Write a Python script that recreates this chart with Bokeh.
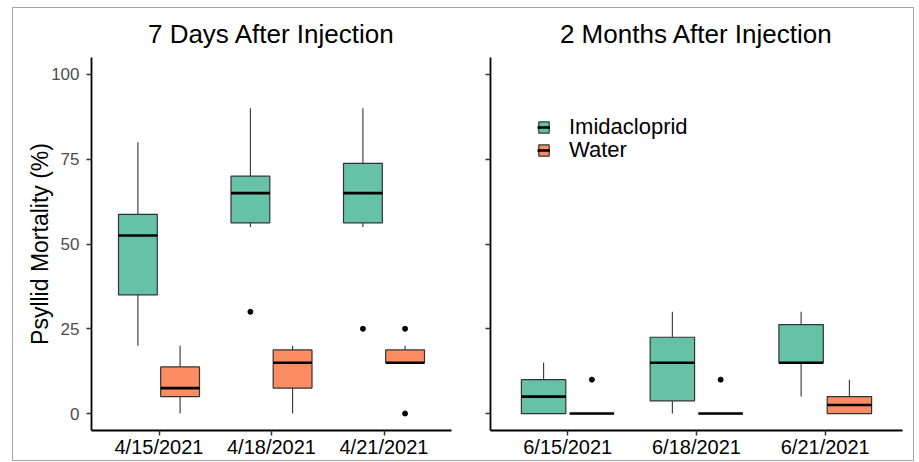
from bokeh.plotting import figure
from bokeh.models import FactorRange, Range1d, Legend, LegendItem, ColumnDataSource
from bokeh.transform import dodge
from bokeh.layouts import row
from bokeh.embed import file_html
from bokeh.resources import INLINE

# ---------------- data ----------------
dates_7d = ["4/15/2021", "4/18/2021", "4/21/2021"]
imid_7d_lower = [20, 55, 55]
imid_7d_q1 = [35, 56.25, 56.25]
imid_7d_median = [52.5, 65, 65]
imid_7d_q3 = [58.75, 70, 73.75]
imid_7d_upper = [80, 90, 90]
water_7d_lower = [0, 0, 15]
water_7d_q1 = [5, 7.5, 15]
water_7d_median = [7.5, 15, 15]
water_7d_q3 = [13.75, 18.75, 18.75]
water_7d_upper = [20, 20, 20]
imid_7d_out_dates = ["4/18/2021", "4/21/2021"]
imid_7d_out_vals = [30, 25]
water_7d_out_dates = ["4/21/2021", "4/21/2021"]
water_7d_out_vals = [25, 0]

dates_2m = ["6/15/2021", "6/18/2021", "6/21/2021"]
imid_2m_lower = [0, 0, 5]
imid_2m_q1 = [0, 3.75, 15]
imid_2m_median = [5, 15, 15]
imid_2m_q3 = [10, 22.5, 26.25]
imid_2m_upper = [15, 30, 30]
water_2m_lower = [0, 0, 0]
water_2m_q1 = [0, 0, 0]
water_2m_median = [0, 0, 2.5]
water_2m_q3 = [0, 0, 5]
water_2m_upper = [0, 0, 10]
imid_2m_out_dates = []
imid_2m_out_vals = []
water_2m_out_dates = ["6/15/2021", "6/18/2021"]
water_2m_out_vals = [10, 10]

y_ticks = [0, 25, 50, 75, 100]
groups = ["Imidacloprid", "Water"]
colors = {"Imidacloprid": "#66c2a5", "Water": "#fc8d62"}

FONT = "Liberation Sans"
BW = 0.345
OFF = 0.1875


def make_panel(title, dates, stats, outs, width, height, left, right, show_ylabels, legend):
    p = figure(width=width, height=height, output_backend="svg", toolbar_location=None,
               x_range=FactorRange(factors=dates, range_padding=0.2 / 3),
               y_range=Range1d(-5, 105),
               min_border_left=left, min_border_right=right,
               min_border_top=49, min_border_bottom=10)
    p.background_fill_color = "white"
    p.border_fill_color = "white"
    p.outline_line_color = None
    p.xgrid.visible = False
    p.ygrid.visible = False

    p.title.text = title
    p.title.align = "center"
    p.title.text_font = FONT
    p.title.text_font_size = "26px"
    p.title.text_font_style = "normal"
    p.title.text_color = "black"
    p.title.standoff = 17

    for ax in (p.xaxis[0], p.yaxis[0]):
        ax.axis_line_color = "black"
        ax.axis_line_width = 1.8
        ax.major_tick_line_color = "#333333"
        ax.major_tick_line_width = 1.5
        ax.major_tick_in = 0
        ax.major_tick_out = 5
        ax.minor_tick_line_color = None
    p.yaxis.ticker = y_ticks
    p.xaxis.major_label_text_font = FONT
    p.xaxis.major_label_text_font_size = "20px"
    p.xaxis.major_label_text_color = "black"
    p.xaxis.major_label_standoff = 0
    if show_ylabels:
        p.yaxis.major_label_text_font = FONT
        p.yaxis.major_label_text_font_size = "17px"
        p.yaxis.major_label_text_color = "#4d4d4d"
        p.yaxis.major_label_standoff = 7
        p.yaxis.axis_label = "Psyllid Mortality (%)"
        p.yaxis.axis_label_text_font = FONT
        p.yaxis.axis_label_text_font_size = "23px"
        p.yaxis.axis_label_text_font_style = "normal"
        p.yaxis.axis_label_text_color = "black"
        p.yaxis.axis_label_standoff = -5
    else:
        p.yaxis.major_label_overrides = {t: "" for t in y_ticks}
        p.yaxis.major_label_standoff = 0

    legend_renderers = {}
    for g, off in zip(groups, (-OFF, OFF)):
        lo, q1, md, q3, hi = stats[g]
        src = ColumnDataSource(dict(date=dates, lower=lo, q1=q1, median=md, q3=q3, upper=hi))
        xc = dodge("date", off, range=p.x_range)
        p.segment(x0=xc, y0="q3", x1=xc, y1="upper", source=src, line_color="#333333", line_width=1.1)
        p.segment(x0=xc, y0="q1", x1=xc, y1="lower", source=src, line_color="#333333", line_width=1.1)
        r_box = p.vbar(x=xc, width=BW, top="q3", bottom="q1", source=src,
                       fill_color=colors[g], line_color="#333333", line_width=1.2)
        r_med = p.segment(x0=dodge("date", off - BW / 2, range=p.x_range), y0="median",
                          x1=dodge("date", off + BW / 2, range=p.x_range), y1="median",
                          source=src, line_color="black", line_width=2.6)
        legend_renderers[g] = [r_box, r_med]
        od, ov = outs[g]
        osrc = ColumnDataSource(dict(date=od, value=ov))
        p.scatter(x=dodge("date", off, range=p.x_range), y="value", source=osrc,
                  size=5, fill_color="black", line_color="black")

    if legend:
        for g, ly in zip(groups, (290, 267)):
            leg = Legend(items=[LegendItem(label=g, renderers=legend_renderers[g])],
                         location=(47, ly), orientation="vertical",
                         glyph_width=13, glyph_height=14, label_standoff=19,
                         label_height=14, spacing=0, padding=0, margin=0,
                         label_text_font=FONT, label_text_font_size="22px",
                         label_text_color="black", background_fill_alpha=0,
                         border_line_color=None)
            p.add_layout(leg, "center")
    return p


stats_7d = {"Imidacloprid": (imid_7d_lower, imid_7d_q1, imid_7d_median, imid_7d_q3, imid_7d_upper),
            "Water": (water_7d_lower, water_7d_q1, water_7d_median, water_7d_q3, water_7d_upper)}
outs_7d = {"Imidacloprid": (imid_7d_out_dates, imid_7d_out_vals),
           "Water": (water_7d_out_dates, water_7d_out_vals)}
stats_2m = {"Imidacloprid": (imid_2m_lower, imid_2m_q1, imid_2m_median, imid_2m_q3, imid_2m_upper),
            "Water": (water_2m_lower, water_2m_q1, water_2m_median, water_2m_q3, water_2m_upper)}
outs_2m = {"Imidacloprid": (imid_2m_out_dates, imid_2m_out_vals),
           "Water": (water_2m_out_dates, water_2m_out_vals)}

p1 = make_panel("7 Days After Injection", dates_7d, stats_7d, outs_7d, 447, 452, 78, 9, True, False)
p2 = make_panel("2 Months After Injection", dates_2m, stats_2m, outs_2m, 453, 452, 30, 11, False, True)

layout = row(p1, p2, margin=(7, 0, 0, 12), styles={"border": "1px solid #a6a6a6"})
open("out.html", "w").write(file_html(layout, INLINE))
